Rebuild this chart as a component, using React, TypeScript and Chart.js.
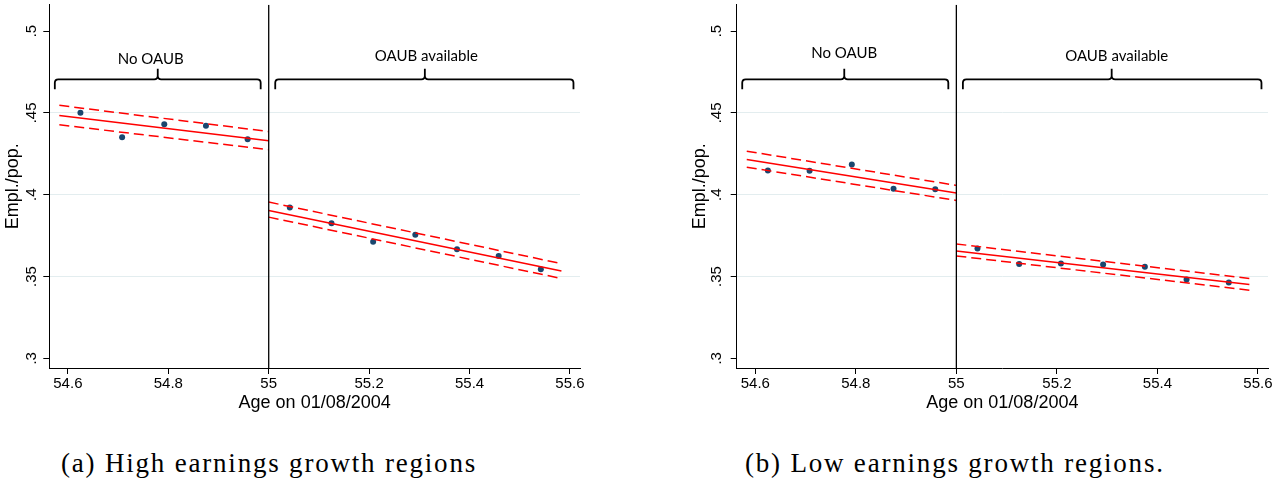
import React, { useEffect, useRef } from "react";
import { Chart, registerables } from "chart.js";

Chart.register(...registerables);

// ---- axes ----
const xTicks = [54.6, 54.8, 55, 55.2, 55.4, 55.6];
const xTickLabels = ["54.6", "54.8", "55", "55.2", "55.4", "55.6"];
const yTicks = [0.3, 0.35, 0.4, 0.45, 0.5];
const yTickLabels = [".3", ".35", ".4", ".45", ".5"];
const yGridTicks = [0.35, 0.4, 0.45];
const xMin = 54.563;
const xMax = 55.62;
const yMin = 0.2941;
const yMax = 0.5161;
const cutoff = 55;

// ---- bins (age) ----
const xBinsBefore = [54.625, 54.708, 54.792, 54.875, 54.958];
const xBinsAfter = [55.042, 55.125, 55.208, 55.292, 55.375, 55.458, 55.542];
const fitXBefore = [54.583, 55.0];
const fitXAfter = [55.0, 55.583];

// ---- panel (a): high earnings growth regions ----
const aBefore = [0.45, 0.4351, 0.443, 0.4421, 0.4339];
const aAfter = [0.3921, 0.3825, 0.3713, 0.3756, 0.3666, 0.3626, 0.3545];
const aFitBefore = [0.4484, 0.4329];
const aUpperBefore = [0.4546, 0.4386];
const aLowerBefore = [0.4427, 0.4275];
const aFitAfter = [0.3904, 0.3534];
const aUpperAfter = [0.3955, 0.3579];
const aLowerAfter = [0.3863, 0.3488];

// ---- panel (b): low earnings growth regions ----
const bBefore = [0.4148, 0.4146, 0.4185, 0.4037, 0.4034];
const bAfter = [0.3671, 0.3577, 0.3579, 0.3573, 0.3559, 0.3482, 0.3463];
const bFitBefore = [0.4215, 0.401];
const bUpperBefore = [0.4266, 0.4057];
const bLowerBefore = [0.4168, 0.3965];
const bFitAfter = [0.3656, 0.3451];
const bUpperAfter = [0.3699, 0.3488];
const bLowerAfter = [0.3626, 0.3416];

// ---- bracket annotations ----
const bracketLabels = ["No OAUB", "OAUB available"];
const bracketStart = [54.574, 55.013];
const bracketEnd = [54.984, 55.607];
const aBracketTip = [54.779, 55.311];
const bBracketTip = [54.777, 55.309];
const aLabelX = [54.765, 55.314];
const bLabelX = [54.777, 55.319];
const aLabelY = [0.4831, 0.4844];
const bLabelY = [0.4864, 0.4844];
const bracketLineY = 0.4705;
const bracketEndY = 0.4644;
const bracketTipY = 0.4769;

const captions = ["(a) High earnings growth regions", "(b) Low earnings growth regions."];

const pts = (xs: number[], ys: number[]) => xs.map((x, i) => ({ x, y: ys[i] }));

function makeBracketPlugin(tips: number[], labelX: number[], labelY: number[]) {
  return {
    id: "brackets",
    afterDatasetsDraw(chart: any) {
      const { ctx } = chart;
      const x = chart.scales.x;
      const y = chart.scales.y;
      ctx.save();
      ctx.strokeStyle = "#000";
      ctx.lineWidth = 1.8;
      ctx.lineJoin = "round";
      bracketLabels.forEach((label, i) => {
        const x1 = x.getPixelForValue(bracketStart[i]);
        const x2 = x.getPixelForValue(bracketEnd[i]);
        const xt = x.getPixelForValue(tips[i]);
        const yl = y.getPixelForValue(bracketLineY);
        const ye = y.getPixelForValue(bracketEndY);
        const yt = y.getPixelForValue(bracketTipY);
        const r = 3.5;
        ctx.beginPath();
        ctx.moveTo(x1, ye);
        ctx.lineTo(x1, yl + r);
        ctx.quadraticCurveTo(x1, yl, x1 + r, yl);
        ctx.lineTo(xt - r, yl);
        ctx.quadraticCurveTo(xt, yl, xt, yl - r);
        ctx.lineTo(xt, yt);
        ctx.moveTo(xt, yl - r);
        ctx.quadraticCurveTo(xt, yl, xt + r, yl);
        ctx.lineTo(x2 - r, yl);
        ctx.quadraticCurveTo(x2, yl, x2, yl + r);
        ctx.lineTo(x2, ye);
        ctx.stroke();
        ctx.font = "15px Lato";
        ctx.fillStyle = "#000";
        ctx.textAlign = "center";
        ctx.textBaseline = "middle";
        ctx.fillText(label, x.getPixelForValue(labelX[i]), y.getPixelForValue(labelY[i]));
      });
      ctx.restore();
    },
  };
}

type PanelProps = {
  left: number;
  width: number;
  yAxisW: number;
  rightPad: number;
  tickPad: number;
  titlePad: number;
  before: number[];
  after: number[];
  fitB: number[];
  upB: number[];
  loB: number[];
  fitA: number[];
  upA: number[];
  loA: number[];
  tips: number[];
  labelX: number[];
  labelY: number[];
};

const RED = "#ff0000";
const NAVY = "#1a476f";

function lineDs(xs: number[], ys: number[], dashed: boolean) {
  return {
    data: pts(xs, ys),
    showLine: true,
    borderColor: RED,
    borderWidth: 1.5,
    borderDash: dashed ? [10, 5] : [],
    pointRadius: 0,
    fill: false,
    order: 2,
  };
}

function Panel(p: PanelProps) {
  const ref = useRef<HTMLCanvasElement | null>(null);
  useEffect(() => {
    if (!ref.current) return;
    const chart = new Chart(ref.current, {
      type: "scatter",
      data: {
        datasets: [
          {
            data: [
              { x: cutoff, y: yMin },
              { x: cutoff, y: yMax },
            ],
            showLine: true,
            borderColor: "#000",
            borderWidth: 1.3,
            pointRadius: 0,
            order: 1,
          } as any,
          lineDs(fitXBefore, p.fitB, false),
          lineDs(fitXBefore, p.upB, true),
          lineDs(fitXBefore, p.loB, true),
          lineDs(fitXAfter, p.fitA, false),
          lineDs(fitXAfter, p.upA, true),
          lineDs(fitXAfter, p.loA, true),
          {
            data: pts(xBinsBefore, p.before),
            backgroundColor: NAVY,
            borderColor: NAVY,
            pointRadius: 3,
            borderWidth: 0,
            order: 5,
          },
          {
            data: pts(xBinsAfter, p.after),
            backgroundColor: NAVY,
            borderColor: NAVY,
            pointRadius: 3,
            borderWidth: 0,
            order: 5,
          },
        ],
      },
      options: {
        responsive: false,
        animation: false,
        events: [],
        layout: { padding: { left: 0, right: p.rightPad, top: 4.7, bottom: 0 } },
        plugins: { legend: { display: false }, tooltip: { enabled: false } },
        scales: {
          x: {
            type: "linear",
            min: xMin,
            max: xMax,
            afterBuildTicks: (s: any) => {
              s.ticks = xTicks.map((v) => ({ value: v }));
            },
            afterFit: (s: any) => {
              s.height = 52;
              s.paddingLeft = 0;
              s.paddingRight = 0;
            },
            grid: { drawOnChartArea: false, tickLength: 6, tickColor: "#000", tickWidth: 1 },
            border: { color: "#000", width: 1 },
            ticks: {
              autoSkip: false,
              maxRotation: 0,
              minRotation: 0,
              padding: 1,
              color: "#000",
              font: { family: "Liberation Sans", size: 15 },
              callback: (_v: any, i: number) => xTickLabels[i],
            },
            title: {
              display: true,
              text: "Age on 01/08/2004",
              color: "#000",
              font: { family: "Liberation Sans", size: 18 },
              padding: { top: 0, bottom: 6.5 },
            },
          },
          y: {
            type: "linear",
            min: yMin,
            max: yMax,
            afterBuildTicks: (s: any) => {
              s.ticks = yTicks.map((v) => ({ value: v }));
            },
            afterFit: (s: any) => {
              s.width = p.yAxisW;
              s.paddingTop = 0;
              s.paddingBottom = 0;
            },
            grid: {
              color: (ctx: any) =>
                ctx.tick && yGridTicks.some((g) => Math.abs(g - ctx.tick.value) < 1e-9)
                  ? "#e3edef"
                  : "rgba(0,0,0,0)",
              lineWidth: 1,
              tickLength: 6,
              tickColor: "#000",
              tickWidth: 1,
            },
            border: { color: "#000", width: 1 },
            ticks: {
              autoSkip: false,
              minRotation: 90,
              maxRotation: 90,
              crossAlign: "center",
              padding: p.tickPad,
              color: "#000",
              font: { family: "Liberation Sans", size: 15 },
              callback: (_v: any, i: number) => yTickLabels[i],
            },
            title: {
              display: true,
              text: "Empl./pop.",
              color: "#000",
              font: { family: "Liberation Sans", size: 18 },
              padding: { top: p.titlePad, bottom: 0 },
            },
          },
        },
      } as any,
      plugins: [makeBracketPlugin(p.tips, p.labelX, p.labelY)],
    });
    return () => chart.destroy();
  }, []);
  return (
    <canvas
      ref={ref}
      width={p.width}
      height={420}
      style={{ position: "absolute", left: p.left, top: 0, width: p.width, height: 420, display: "block" }}
    />
  );
}

export default function App() {
  const capStyle: React.CSSProperties = {
    position: "absolute",
    top: 450,
    fontFamily: "'Liberation Serif', serif",
    fontSize: 27,
    lineHeight: "27px",
    letterSpacing: "1.8px",
    whiteSpace: "nowrap",
    color: "#000",
  };
  return (
    <div style={{ position: "absolute", left: 0, top: 0, width: 1286, height: 487, background: "#fff", overflow: "hidden" }}>
      <Panel
        left={0}
        width={640}
        yAxisW={49.3}
        rightPad={60}
        tickPad={1}
        titlePad={2.5}
        before={aBefore}
        after={aAfter}
        fitB={aFitBefore}
        upB={aUpperBefore}
        loB={aLowerBefore}
        fitA={aFitAfter}
        upA={aUpperAfter}
        loA={aLowerAfter}
        tips={aBracketTip}
        labelX={aLabelX}
        labelY={aLabelY}
      />
      <Panel
        left={688}
        width={598}
        yAxisW={48.7}
        rightPad={18}
        tickPad={3}
        titlePad={1.2}
        before={bBefore}
        after={bAfter}
        fitB={bFitBefore}
        upB={bUpperBefore}
        loB={bLowerBefore}
        fitA={bFitAfter}
        upA={bUpperAfter}
        loA={bLowerAfter}
        tips={bBracketTip}
        labelX={bLabelX}
        labelY={bLabelY}
      />
      <div style={{ ...capStyle, left: 61 }}>{captions[0]}</div>
      <div style={{ ...capStyle, left: 745 }}>{captions[1]}</div>
    </div>
  );
}
